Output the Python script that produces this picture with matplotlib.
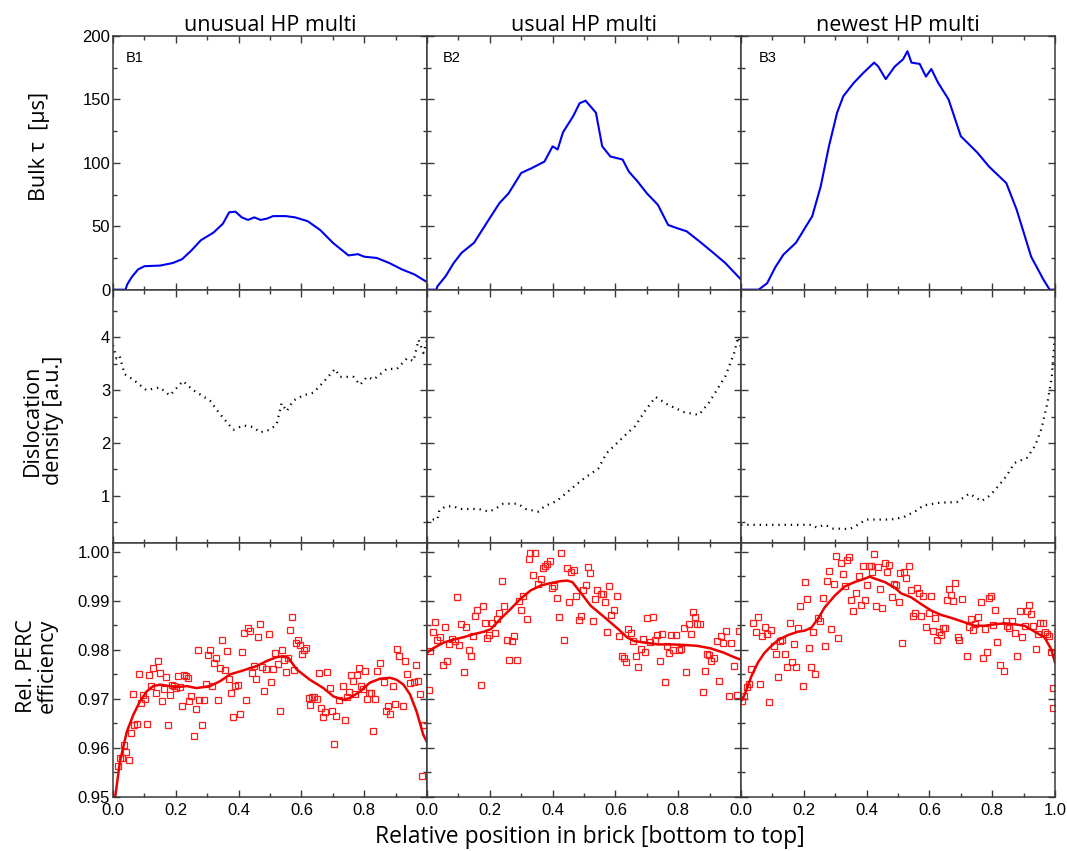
import matplotlib
matplotlib.use("Agg")
import matplotlib.pyplot as plt
from matplotlib.ticker import MultipleLocator, FixedLocator

titles = ["unusual HP multi", "usual HP multi", "newest HP multi"]
bricks = ["B1", "B2", "B3"]

# Bulk lifetime [us]
tau_x1 = [0.0, 0.04, 0.045, 0.06, 0.08, 0.10, 0.15, 0.19, 0.22, 0.25, 0.28, 0.32, 0.35, 0.37, 0.39,
          0.41, 0.43, 0.45, 0.47, 0.49, 0.51, 0.55, 0.58, 0.62, 0.66, 0.70, 0.73, 0.75, 0.78, 0.80,
          0.84, 0.88, 0.92, 0.96, 1.0]
tau_y1 = [0, 0, 4, 10, 16, 18.5, 19, 21, 24, 31, 39, 45, 52, 61, 61.5,
          57, 55, 57, 55, 56, 58, 58, 57, 54, 47, 37, 31, 27, 28, 26,
          25, 21, 16, 12, 6]
tau_x2 = [0.0, 0.03, 0.033, 0.059, 0.085, 0.11, 0.15, 0.19, 0.23, 0.26, 0.30, 0.335, 0.374, 0.40, 0.416,
          0.433, 0.466, 0.486, 0.505, 0.538, 0.558, 0.584, 0.623, 0.643, 0.67, 0.70, 0.735, 0.768, 0.794,
          0.827, 0.873, 0.912, 0.95, 1.0]
tau_y2 = [0, 0, 2.6, 10.5, 21, 29, 37, 52.6, 68, 76, 92, 96, 101, 113, 110.5,
          124, 137, 147, 149, 139.5, 113, 105, 102.6, 93, 85.5, 76, 67, 51, 48.7,
          46, 37, 29, 21, 8]
tau_x3 = [0.0, 0.056, 0.083, 0.11, 0.135, 0.175, 0.227, 0.254, 0.28, 0.306, 0.326, 0.359, 0.39, 0.424,
          0.437, 0.461, 0.49, 0.516, 0.53, 0.543, 0.569, 0.589, 0.606, 0.628, 0.661, 0.70, 0.753, 0.79,
          0.845, 0.878, 0.924, 0.963, 0.983, 1.0]
tau_y3 = [0, 0, 5, 18, 27.6, 37, 58, 81.6, 113, 139.5, 152.6, 163, 171, 179,
          176, 166, 176, 181.6, 188, 179, 178, 168, 174, 163, 150, 121, 108, 97,
          84, 63, 26, 8, 0, 0]

# Dislocation density [a.u.]
dis_x1 = [0.000, 0.011, 0.021, 0.037, 0.064, 0.085, 0.106, 0.149, 0.181, 0.223, 0.255, 0.309, 0.340,
          0.383, 0.415, 0.447, 0.468, 0.500, 0.521, 0.537, 0.553, 0.574, 0.606, 0.638, 0.670, 0.707,
          0.723, 0.766, 0.787, 0.809, 0.830, 0.872, 0.904, 0.936, 0.957, 0.973, 0.989, 1.000]
dis_y1 = [3.85, 3.6, 3.65, 3.3, 3.2, 3.1, 3.0, 3.05, 2.9, 3.17, 3.0, 2.8, 2.55,
          2.25, 2.33, 2.3, 2.2, 2.25, 2.35, 2.75, 2.6, 2.8, 2.9, 2.95, 3.15, 3.4,
          3.25, 3.25, 3.1, 3.25, 3.2, 3.4, 3.4, 3.6, 3.55, 3.95, 3.7, 3.95]
dis_x2 = [0.000, 0.020, 0.033, 0.039, 0.059, 0.085, 0.105, 0.164, 0.197, 0.217, 0.243, 0.289, 0.315,
          0.354, 0.374, 0.413, 0.453, 0.479, 0.505, 0.545, 0.571, 0.597, 0.630, 0.663, 0.696, 0.728,
          0.768, 0.820, 0.866, 0.899, 0.925, 0.951, 0.978, 0.991, 1.000]
dis_y2 = [0.5, 0.55, 0.55, 0.72, 0.8, 0.8, 0.75, 0.75, 0.7, 0.75, 0.85, 0.85, 0.75,
          0.7, 0.8, 0.9, 1.1, 1.23, 1.35, 1.51, 1.8, 1.95, 2.14, 2.32, 2.62, 2.87,
          2.72, 2.58, 2.53, 2.77, 3.02, 3.27, 3.7, 4.0, 3.8]
dis_x3 = [0.000, 0.227, 0.240, 0.267, 0.293, 0.346, 0.372, 0.398, 0.424, 0.477, 0.516, 0.556, 0.582,
          0.635, 0.687, 0.727, 0.766, 0.792, 0.819, 0.845, 0.871, 0.911, 0.937, 0.957, 0.976, 0.990, 0.999]
dis_y3 = [0.45, 0.45, 0.4, 0.45, 0.38, 0.37, 0.45, 0.55, 0.55, 0.55, 0.59, 0.71, 0.82,
          0.87, 0.88, 1.04, 0.9, 1.0, 1.18, 1.37, 1.62, 1.72, 1.95, 2.27, 2.76, 3.26, 4.0]

# Relative PERC efficiency, measured cells
eff_x1 = [0.016, 0.022, 0.029, 0.035, 0.041, 0.050, 0.056, 0.063, 0.067, 0.075, 0.082, 0.088, 0.097, 0.103,
          0.107, 0.116, 0.122, 0.128, 0.137, 0.143, 0.150, 0.156, 0.162, 0.169, 0.175, 0.182, 0.188, 0.194,
          0.201, 0.207, 0.213, 0.220, 0.226, 0.232, 0.239, 0.243, 0.249, 0.258, 0.264, 0.271, 0.275, 0.283,
          0.290, 0.296, 0.303, 0.309, 0.315, 0.322, 0.328, 0.334, 0.341, 0.347, 0.356, 0.364, 0.368, 0.377,
          0.383, 0.390, 0.398, 0.404, 0.411, 0.417, 0.424, 0.430, 0.436, 0.443, 0.449, 0.455, 0.462, 0.468,
          0.475, 0.481, 0.487, 0.496, 0.502, 0.508, 0.517, 0.525, 0.532, 0.538, 0.545, 0.551, 0.557, 0.564,
          0.570, 0.576, 0.583, 0.589, 0.596, 0.602, 0.608, 0.615, 0.623, 0.627, 0.634, 0.640, 0.649, 0.657,
          0.663, 0.670, 0.676, 0.683, 0.691, 0.697, 0.704, 0.710, 0.719, 0.731, 0.738, 0.744, 0.751, 0.757,
          0.763, 0.770, 0.776, 0.785, 0.791, 0.797, 0.804, 0.810, 0.816, 0.823, 0.829, 0.835, 0.842, 0.850,
          0.863, 0.869, 0.876, 0.882, 0.891, 0.897, 0.906, 0.912, 0.925, 0.931, 0.937, 0.946, 0.959, 0.965,
          0.971, 0.978, 0.984, 0.990]
eff_y1 = [0.9564, 0.9580, 0.9579, 0.9606, 0.9591, 0.9575, 0.9630, 0.9710, 0.9647, 0.9649, 0.9750, 0.9692, 0.9707, 0.9700,
          0.9649, 0.9748, 0.9726, 0.9762, 0.9712, 0.9777, 0.9753, 0.9695, 0.9721, 0.9744, 0.9647, 0.9707, 0.9728, 0.9726,
          0.9722, 0.9746, 0.9724, 0.9685, 0.9748, 0.9746, 0.9743, 0.9695, 0.9705, 0.9625, 0.9680, 0.9799, 0.9698, 0.9647,
          0.9698, 0.9730, 0.9789, 0.9799, 0.9727, 0.9774, 0.9784, 0.9697, 0.9763, 0.9820, 0.9758, 0.9798, 0.9741, 0.9712,
          0.9663, 0.9726, 0.9729, 0.9670, 0.9796, 0.9835, 0.9698, 0.9845, 0.9839, 0.9753, 0.9767, 0.9741, 0.9826, 0.9852,
          0.9765, 0.9717, 0.9761, 0.9833, 0.9735, 0.9761, 0.9793, 0.9772, 0.9675, 0.9799, 0.9780, 0.9754, 0.9784, 0.9841,
          0.9866, 0.9759, 0.9813, 0.9820, 0.9810, 0.9792, 0.9799, 0.9803, 0.9702, 0.9688, 0.9703, 0.9703, 0.9700, 0.9753,
          0.9681, 0.9664, 0.9674, 0.9754, 0.9722, 0.9676, 0.9608, 0.9666, 0.9698, 0.9726, 0.9656, 0.9703, 0.9714, 0.9748,
          0.9736, 0.9710, 0.9748, 0.9763, 0.9726, 0.9721, 0.9756, 0.9700, 0.9711, 0.9711, 0.9635, 0.9700, 0.9756, 0.9774,
          0.9735, 0.9676, 0.9685, 0.9669, 0.9726, 0.9689, 0.9802, 0.9787, 0.9686, 0.9777, 0.9750, 0.9733, 0.9734, 0.9769,
          0.9736, 0.9710, 0.9542, 0.9647]
eff_x2 = [0.005, 0.010, 0.018, 0.027, 0.033, 0.041, 0.050, 0.056, 0.063, 0.071, 0.080, 0.088, 0.097, 0.103,
          0.109, 0.118, 0.124, 0.133, 0.141, 0.148, 0.154, 0.160, 0.171, 0.179, 0.186, 0.192, 0.199, 0.207,
          0.216, 0.224, 0.230, 0.239, 0.245, 0.256, 0.262, 0.271, 0.277, 0.286, 0.292, 0.300, 0.307, 0.317,
          0.324, 0.328, 0.337, 0.345, 0.354, 0.362, 0.368, 0.375, 0.383, 0.392, 0.398, 0.404, 0.413, 0.421,
          0.428, 0.436, 0.445, 0.453, 0.460, 0.468, 0.475, 0.483, 0.489, 0.498, 0.506, 0.513, 0.519, 0.530,
          0.536, 0.542, 0.553, 0.559, 0.566, 0.574, 0.581, 0.587, 0.596, 0.604, 0.610, 0.621, 0.627, 0.634,
          0.640, 0.649, 0.657, 0.666, 0.672, 0.680, 0.687, 0.695, 0.702, 0.710, 0.719, 0.725, 0.734, 0.742,
          0.748, 0.757, 0.765, 0.772, 0.778, 0.785, 0.793, 0.801, 0.810, 0.818, 0.825, 0.833, 0.840, 0.848,
          0.855, 0.861, 0.869, 0.878, 0.884, 0.893, 0.899, 0.906, 0.914, 0.923, 0.931, 0.937, 0.944, 0.952,
          0.961, 0.969, 0.978, 0.986, 0.993]
eff_y2 = [0.9719, 0.9798, 0.9837, 0.9856, 0.9819, 0.9826, 0.9770, 0.9847, 0.9777, 0.9811, 0.9823, 0.9818, 0.9908, 0.9810,
          0.9852, 0.9755, 0.9847, 0.9799, 0.9787, 0.9828, 0.9868, 0.9881, 0.9728, 0.9889, 0.9855, 0.9825, 0.9830, 0.9854,
          0.9835, 0.9863, 0.9876, 0.9941, 0.9889, 0.9819, 0.9780, 0.9818, 0.9828, 0.9780, 0.9899, 0.9882, 0.9909, 0.9862,
          0.9986, 0.9998, 0.9953, 0.9998, 0.9934, 0.9944, 0.9966, 0.9971, 0.9975, 0.9982, 0.9925, 0.9931, 0.9906, 0.9866,
          0.9997, 0.9821, 0.9967, 0.9897, 0.9959, 0.9963, 0.9909, 0.9860, 0.9868, 0.9921, 0.9933, 0.9969, 0.9957, 0.9858,
          0.9904, 0.9921, 0.9914, 0.9914, 0.9897, 0.9837, 0.9930, 0.9870, 0.9882, 0.9909, 0.9828, 0.9787, 0.9784, 0.9776,
          0.9842, 0.9834, 0.9817, 0.9787, 0.9765, 0.9801, 0.9823, 0.9796, 0.9864, 0.9815, 0.9867, 0.9821, 0.9830, 0.9777,
          0.9832, 0.9734, 0.9808, 0.9794, 0.9830, 0.9800, 0.9830, 0.9799, 0.9801, 0.9845, 0.9755, 0.9852, 0.9832, 0.9878,
          0.9866, 0.9852, 0.9852, 0.9715, 0.9756, 0.9792, 0.9789, 0.9778, 0.9784, 0.9818, 0.9736, 0.9828, 0.9813, 0.9839,
          0.9706, 0.9813, 0.9767, 0.9708, 0.9839]
eff_x3 = [0.003, 0.010, 0.018, 0.024, 0.033, 0.039, 0.048, 0.054, 0.061, 0.067, 0.075, 0.084, 0.090, 0.097,
          0.105, 0.111, 0.118, 0.124, 0.131, 0.139, 0.148, 0.156, 0.162, 0.169, 0.175, 0.182, 0.188, 0.199,
          0.205, 0.211, 0.218, 0.224, 0.230, 0.237, 0.245, 0.252, 0.260, 0.266, 0.273, 0.279, 0.288, 0.296,
          0.303, 0.309, 0.317, 0.326, 0.330, 0.337, 0.345, 0.351, 0.358, 0.366, 0.375, 0.381, 0.387, 0.394,
          0.400, 0.407, 0.413, 0.417, 0.424, 0.430, 0.436, 0.443, 0.449, 0.458, 0.466, 0.472, 0.481, 0.487,
          0.494, 0.502, 0.506, 0.513, 0.519, 0.525, 0.536, 0.542, 0.549, 0.555, 0.559, 0.566, 0.574, 0.581,
          0.589, 0.598, 0.606, 0.613, 0.619, 0.625, 0.632, 0.636, 0.642, 0.649, 0.655, 0.661, 0.668, 0.674,
          0.683, 0.691, 0.695, 0.704, 0.719, 0.725, 0.731, 0.740, 0.746, 0.755, 0.763, 0.770, 0.776, 0.782,
          0.789, 0.795, 0.804, 0.810, 0.816, 0.825, 0.838, 0.844, 0.848, 0.855, 0.863, 0.872, 0.880, 0.889,
          0.895, 0.903, 0.910, 0.916, 0.925, 0.931, 0.939, 0.946, 0.952, 0.961, 0.969, 0.973, 0.980, 0.988,
          0.995, 0.995]
eff_y3 = [0.9696, 0.9705, 0.9724, 0.9730, 0.9761, 0.9854, 0.9837, 0.9866, 0.9731, 0.9828, 0.9847, 0.9833, 0.9694, 0.9841,
          0.9807, 0.9791, 0.9744, 0.9818, 0.9820, 0.9792, 0.9765, 0.9854, 0.9775, 0.9811, 0.9765, 0.9844, 0.9889, 0.9726,
          0.9938, 0.9904, 0.9804, 0.9765, 0.9837, 0.9751, 0.9865, 0.9859, 0.9906, 0.9807, 0.9941, 0.9960, 0.9843, 0.9934,
          0.9991, 0.9824, 0.9977, 0.9955, 0.9930, 0.9984, 0.9990, 0.9902, 0.9880, 0.9916, 0.9950, 0.9891, 0.9971, 0.9902,
          0.9933, 0.9970, 0.9971, 0.9958, 0.9995, 0.9889, 0.9969, 0.9923, 0.9885, 0.9977, 0.9958, 0.9973, 0.9907, 0.9934,
          0.9933, 0.9897, 0.9956, 0.9814, 0.9959, 0.9947, 0.9970, 0.9921, 0.9869, 0.9874, 0.9925, 0.9915, 0.9869, 0.9910,
          0.9847, 0.9876, 0.9910, 0.9839, 0.9865, 0.9820, 0.9837, 0.9830, 0.9845, 0.9844, 0.9902, 0.9924, 0.9912, 0.9899,
          0.9936, 0.9826, 0.9820, 0.9904, 0.9788, 0.9847, 0.9863, 0.9840, 0.9852, 0.9866, 0.9897, 0.9784, 0.9843, 0.9796,
          0.9906, 0.9909, 0.9851, 0.9882, 0.9815, 0.9770, 0.9756, 0.9859, 0.9849, 0.9844, 0.9859, 0.9834, 0.9787, 0.9880,
          0.9826, 0.9849, 0.9880, 0.9892, 0.9873, 0.9849, 0.9802, 0.9833, 0.9855, 0.9854, 0.9837, 0.9833, 0.9828, 0.9795,
          0.9722, 0.9681]

# Relative PERC efficiency, smoothed trend
fit_x1 = [0.007, 0.022, 0.044, 0.065, 0.086, 0.107, 0.128, 0.150, 0.171, 0.203, 0.235, 0.266, 0.309, 0.341,
          0.373, 0.415, 0.458, 0.489, 0.521, 0.542, 0.558, 0.585, 0.627, 0.670, 0.702, 0.734, 0.755, 0.787,
          0.818, 0.850, 0.882, 0.903, 0.925, 0.946, 0.967, 0.988, 0.999]
fit_y1 = [0.9500, 0.9572, 0.9633, 0.9668, 0.9695, 0.9715, 0.9726, 0.9729, 0.9727, 0.9724, 0.9726, 0.9722, 0.9726, 0.9736,
          0.9750, 0.9758, 0.9767, 0.9777, 0.9785, 0.9787, 0.9784, 0.9760, 0.9739, 0.9722, 0.9705, 0.9698, 0.9702, 0.9715,
          0.9733, 0.9741, 0.9743, 0.9739, 0.9729, 0.9709, 0.9674, 0.9627, 0.9613]
fit_x2 = [0.000, 0.022, 0.054, 0.086, 0.118, 0.150, 0.182, 0.203, 0.234, 0.266, 0.298, 0.330, 0.362, 0.394,
          0.426, 0.447, 0.463, 0.489, 0.521, 0.564, 0.606, 0.638, 0.659, 0.691, 0.734, 0.776, 0.818, 0.861,
          0.903, 0.946, 0.978, 0.999]
fit_y2 = [0.9794, 0.9804, 0.9815, 0.9821, 0.9826, 0.9832, 0.9837, 0.9842, 0.9863, 0.9883, 0.9904, 0.9921, 0.9931, 0.9936,
          0.9940, 0.9941, 0.9938, 0.9917, 0.9890, 0.9867, 0.9844, 0.9825, 0.9818, 0.9815, 0.9811, 0.9811, 0.9810, 0.9808,
          0.9803, 0.9794, 0.9785, 0.9780]
fit_x3 = [0.000, 0.012, 0.033, 0.054, 0.075, 0.097, 0.118, 0.150, 0.182, 0.203, 0.224, 0.245, 0.266, 0.298,
          0.330, 0.362, 0.394, 0.410, 0.426, 0.458, 0.489, 0.510, 0.542, 0.574, 0.606, 0.638, 0.670, 0.712,
          0.744, 0.776, 0.808, 0.840, 0.872, 0.903, 0.935, 0.967, 0.988, 1.000]
fit_y3 = [0.9695, 0.9709, 0.9746, 0.9774, 0.9794, 0.9808, 0.9820, 0.9830, 0.9837, 0.9839, 0.9845, 0.9863, 0.9886, 0.9910,
          0.9929, 0.9938, 0.9945, 0.9949, 0.9945, 0.9938, 0.9927, 0.9915, 0.9907, 0.9893, 0.9880, 0.9871, 0.9865, 0.9856,
          0.9849, 0.9849, 0.9852, 0.9854, 0.9852, 0.9849, 0.9837, 0.9825, 0.9801, 0.9774]

tau_x = [tau_x1, tau_x2, tau_x3]
tau_y = [tau_y1, tau_y2, tau_y3]
dis_x = [dis_x1, dis_x2, dis_x3]
dis_y = [dis_y1, dis_y2, dis_y3]
eff_x = [eff_x1, eff_x2, eff_x3]
eff_y = [eff_y1, eff_y2, eff_y3]
fit_x = [fit_x1, fit_x2, fit_x3]
fit_y = [fit_y1, fit_y2, fit_y3]

W, H = 1067, 851
fig = plt.figure(figsize=(W / 100, H / 100), dpi=100)
gs = fig.add_gridspec(3, 3, left=113 / W, right=1055 / W, top=1 - 36 / H, bottom=1 - 797 / H,
                      wspace=0, hspace=0)

tick_font = "Liberation Sans"
label_font = "Open Sans"
spine_col = "#3a3a3a"
label_offsets = [0.04, 0.05, 0.055]

for c in range(3):
    axs = [fig.add_subplot(gs[r, c]) for r in range(3)]
    a_tau, a_dis, a_eff = axs

    a_tau.plot(tau_x[c], tau_y[c], color="#0000ee", lw=1.5)
    a_dis.plot(dis_x[c], dis_y[c], color="black", lw=1.6, ls=(0, (0.6, 2.2)))
    a_eff.plot(eff_x[c], eff_y[c], ls="none", marker="s", ms=4.5, mfc="none", mec="#ff1a1a", mew=0.9)
    a_eff.plot(fit_x[c], fit_y[c], color="#ee0000", lw=1.8)

    a_tau.set_ylim(0, 200)
    a_tau.yaxis.set_major_locator(FixedLocator([0, 50, 100, 150, 200]))
    a_tau.yaxis.set_minor_locator(MultipleLocator(25))
    a_dis.set_ylim(0.1, 4.9)
    a_dis.yaxis.set_major_locator(FixedLocator([1, 2, 3, 4]))
    a_dis.yaxis.set_minor_locator(MultipleLocator(0.5))
    a_eff.set_ylim(0.95, 1.0017)
    a_eff.yaxis.set_major_locator(FixedLocator([0.95, 0.96, 0.97, 0.98, 0.99, 1.00]))
    a_eff.yaxis.set_minor_locator(MultipleLocator(0.005))

    for ax in axs:
        ax.set_xlim(0, 1)
        ax.xaxis.set_major_locator(FixedLocator([0, 0.2, 0.4, 0.6, 0.8, 1.0]))
        ax.xaxis.set_minor_locator(MultipleLocator(0.1))
        ax.tick_params(which="both", direction="in", top=True, right=True, color=spine_col,
                       labelsize=12, pad=2)
        ax.tick_params(axis="x", pad=4)
        ax.tick_params(which="major", length=5, width=1)
        ax.tick_params(which="minor", length=3, width=1)
        for s in ax.spines.values():
            s.set_color(spine_col)
            s.set_linewidth(1.1)
        for lab in ax.get_xticklabels() + ax.get_yticklabels():
            lab.set_fontfamily(tick_font)
        if c > 0:
            ax.set_yticklabels([])
        if ax is not a_eff:
            ax.set_xticklabels([])

    if c == 0:
        a_eff.set_yticklabels(["0.95", "0.96", "0.97", "0.98", "0.99", "1.00"], fontfamily=tick_font)
    xl = ["0.0", "0.2", "0.4", "0.6", "0.8", "1.0" if c == 2 else ""]
    a_eff.set_xticklabels(xl, fontfamily=tick_font)

    a_tau.set_title(titles[c], fontfamily=label_font, fontsize=15.5, pad=3)
    a_tau.text(label_offsets[c], 0.94, bricks[c], transform=a_tau.transAxes, fontsize=10.5,
               fontfamily=tick_font, va="top", ha="left")

fig.text(40 / W, 1 - 146 / H, "Bulk \u03c4  [\u00b5s]", rotation=90, ha="center", va="center",
         fontfamily=label_font, fontsize=15.5)
fig.text(43 / W, 1 - 420 / H, "Dislocation\ndensity [a.u.]", rotation=90, ha="center", va="center",
         fontfamily=label_font, fontsize=15.5, linespacing=1.0)
fig.text(37 / W, 1 - 666 / H, "Rel. PERC\nefficiency", rotation=90, ha="center", va="center",
         fontfamily=label_font, fontsize=15.5, linespacing=1.0)
fig.text(590 / W, 1 - 837 / H, "Relative position in brick [bottom to top]", ha="center", va="center",
         fontfamily=label_font, fontsize=16.5)

fig.savefig("out.png", dpi=100)
